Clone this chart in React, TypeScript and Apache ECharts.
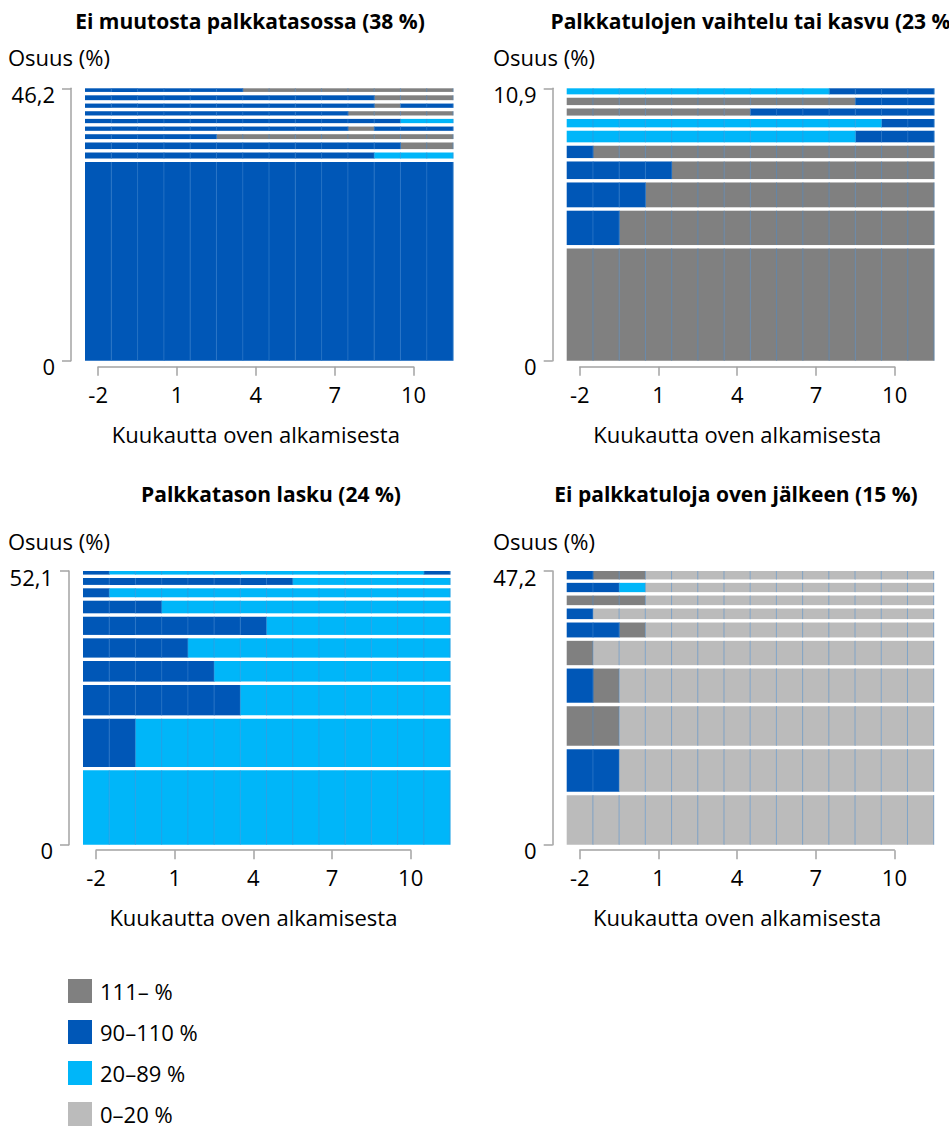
import React, { useEffect, useRef } from 'react';
import * as echarts from 'echarts';

// ---------- data ----------
const MONTHS = [-2, -1, 0, 1, 2, 3, 4, 5, 6, 7, 8, 9, 10, 11];
const STATE_CODES = ['H', 'B', 'C', 'L'];
const STATE_NAMES = ['111– %', '90–110 %', '20–89 %', '0–20 %'];
const STATE_COLORS = ['#808080', '#0057b7', '#00b6f9', '#bbbbbb'];

const PANEL_TITLES = [
  'Ei muutosta palkkatasossa (38 %)',
  'Palkkatulojen vaihtelu tai kasvu (23 %)',
  'Palkkatason lasku (24 %)',
  'Ei palkkatuloja oven jälkeen (15 %)',
];
const Y_MAX = [46.2, 10.9, 52.1, 47.2];
const X_AXIS_TITLE = 'Kuukautta oven alkamisesta';
const Y_AXIS_TITLE = 'Osuus (%)';

// shares (%) of each sequence, listed from top row to bottom row
const SHARES_1 = [0.9, 1.4, 1.3, 1.3, 1.3, 1.3, 1.4, 1.7, 1.6, 34.0];
const SEQ_1 = [
  'BBBBBBHHHHHHHH',
  'BBBBBBBBBBBHHH',
  'BBBBBBBBBBBHBB',
  'BBBBBBBBBBHHHH',
  'BBBBBBBBBBBBCC',
  'BBBBBBBBBBHBBB',
  'BBBBBHHHHHHHHH',
  'BBBBBBBBBBBBHH',
  'BBBBBBBBBBBCCC',
  'BBBBBBBBBBBBBB',
];

const SHARES_2 = [0.31, 0.43, 0.42, 0.47, 0.6, 0.63, 0.84, 1.13, 1.51, 4.56];
const SEQ_2 = [
  'CCCCCCCCCCBBBB',
  'HHHHHHHHHHHBBB',
  'HHHHHHHBBBBBBB',
  'CCCCCCCCCCCCBB',
  'CCCCCCCCCCCBBB',
  'BHHHHHHHHHHHHH',
  'BBBBHHHHHHHHHH',
  'BBBHHHHHHHHHHH',
  'BBHHHHHHHHHHHH',
  'HHHHHHHHHHHHHH',
];

const SHARES_3 = [1.01, 1.96, 2.36, 3.05, 4.11, 4.32, 4.57, 6.42, 9.82, 14.48];
const SEQ_3 = [
  'BCCCCCCCCCCCCB',
  'BBBBBBBBCCCCCC',
  'BCCCCCCCCCCCCC',
  'BBBCCCCCCCCCCC',
  'BBBBBBBCCCCCCC',
  'BBBBCCCCCCCCCC',
  'BBBBBCCCCCCCCC',
  'BBBBBBCCCCCCCC',
  'BBCCCCCCCCCCCC',
  'CCCCCCCCCCCCCC',
];

const SHARES_4 = [1.75, 2.19, 2.24, 2.41, 3.16, 4.78, 6.48, 7.42, 7.93, 8.84];
const SEQ_4 = [
  'BHHLLLLLLLLLLL',
  'BBCLLLLLLLLLLL',
  'HHHLLLLLLLLLLL',
  'BLLLLLLLLLLLLL',
  'BBHLLLLLLLLLLL',
  'HLLLLLLLLLLLLL',
  'BHLLLLLLLLLLLL',
  'HHLLLLLLLLLLLL',
  'BBLLLLLLLLLLLL',
  'LLLLLLLLLLLLLL',
];

const PANEL_SHARES = [SHARES_1, SHARES_2, SHARES_3, SHARES_4];
const PANEL_SEQS = [SEQ_1, SEQ_2, SEQ_3, SEQ_4];

// ---------- layout ----------
const FONT = '"Open Sans", "Noto Sans", sans-serif';
const FS = 22;
const FS_TITLE = 21;
const LAYOUT = [
  { left: 85, top: 88.3, width: 368, height: 272.4, xOff: 6, titleX: 250, titleY: 21, nameX: 8, nameY: 57 },
  { left: 566.7, top: 88.3, width: 367.3, height: 272.4, xOff: 6, titleX: 754, titleY: 21, nameX: 493, nameY: 57 },
  { left: 83, top: 571, width: 367, height: 273.7, xOff: 5.5, titleX: 271, titleY: 494, nameX: 8, nameY: 541 },
  { left: 566.7, top: 571, width: 367, height: 273.7, xOff: 5.5, titleX: 736, titleY: 494, nameX: 493, nameY: 541 },
];
const LEGEND_LEFT = 68;
const LEGEND_TOP = 979;
const LEGEND_STEP = 41;
const GAP = 3.4;
const AXIS_COLOR = '#a3a3a3';

function buildOption() {
  const grid: any[] = [];
  const xAxis: any[] = [];
  const yAxis: any[] = [];
  const series: any[] = [];
  const graphic: any[] = [];

  PANEL_TITLES.forEach((title, p) => {
    const L = LAYOUT[p];
    const n = MONTHS.length;
    const cw = L.width / n;
    const gMain = grid.length;
    grid.push({ left: L.left, top: L.top, width: L.width, height: L.height, outerBoundsMode: 'none' });
    grid.push({
      left: L.left + cw / 2,
      top: L.top,
      width: cw * (n - 2),
      height: L.height,
      outerBoundsMode: 'none',
    });
    const xMain = xAxis.length;
    xAxis.push({ gridIndex: gMain, type: 'value', min: -0.5, max: n - 0.5, show: false });
    xAxis.push({
      gridIndex: gMain + 1,
      type: 'value',
      min: 0,
      max: n - 2,
      interval: 3,
      position: 'bottom',
      offset: L.xOff,
      axisLine: { show: true, onZero: false, lineStyle: { color: AXIS_COLOR, width: 1.5 } },
      axisTick: { show: true, length: 9, lineStyle: { color: AXIS_COLOR, width: 1.5 } },
      axisLabel: {
        formatter: (v: number) => String(MONTHS[Math.round(v)]),
        fontSize: FS,
        color: '#000',
        fontFamily: FONT,
        margin: 16,
      },
      splitLine: { show: false },
      name: X_AXIS_TITLE,
      nameLocation: 'middle',
      nameGap: 56,
      nameTextStyle: { fontSize: FS, color: '#000', fontFamily: FONT },
    });
    const yMain = yAxis.length;
    const M = Y_MAX[p];
    yAxis.push({
      gridIndex: gMain,
      type: 'value',
      min: 0,
      max: M,
      interval: M,
      position: 'left',
      offset: 14,
      axisLine: { show: true, onZero: false, lineStyle: { color: AXIS_COLOR, width: 1.5 } },
      axisTick: { show: true, length: 9, lineStyle: { color: AXIS_COLOR, width: 1.5 } },
      axisLabel: {
        formatter: (v: number) => (v === 0 ? '0' : v.toFixed(1).replace('.', ',')),
        fontSize: FS,
        color: '#000',
        fontFamily: FONT,
        margin: 16,
        verticalAlign: 'top',
        lineHeight: 11,
        showMinLabel: true,
        showMaxLabel: true,
      },
      splitLine: { show: false },
    });
    yAxis.push({ gridIndex: gMain + 1, type: 'value', min: 0, max: 1, show: false });

    // cells
    const shares = PANEL_SHARES[p];
    const seqs = PANEL_SEQS[p];
    const rows = shares.length;
    const byState: any[][] = STATE_CODES.map(() => []);
    const borders: any[] = [];
    let cum = 0;
    for (let r = rows - 1; r >= 0; r--) {
      const y0 = cum;
      const y1 = r === 0 ? M : cum + shares[r];
      cum += shares[r];
      const isTop = r === 0 ? 1 : 0;
      const isBottom = r === rows - 1 ? 1 : 0;
      for (let m = 0; m < n; m++) {
        const s = STATE_CODES.indexOf(seqs[r][m]);
        byState[s].push([m, y0, y1, isTop, isBottom]);
        borders.push([m, y0, y1, isTop, isBottom]);
      }
    }
    const rectOf = (api: any) => {
      const m = api.value(0);
      const y0 = api.value(1);
      const y1 = api.value(2);
      const isTop = api.value(3);
      const isBottom = api.value(4);
      const a = api.coord([m - 0.5, y1]);
      const b = api.coord([m + 0.5, y0]);
      const top = a[1] + (isTop ? 0 : GAP / 2);
      const bottom = b[1] - (isBottom ? 0 : GAP / 2);
      return { x0: a[0], x1: b[0], top, bottom };
    };
    STATE_CODES.forEach((_, s) => {
      series.push({
        type: 'custom',
        name: STATE_NAMES[s],
        xAxisIndex: xMain,
        yAxisIndex: yMain,
        itemStyle: { color: STATE_COLORS[s] },
        encode: { x: 0, y: [1, 2] },
        clip: false,
        silent: true,
        data: byState[s],
        renderItem: (params: any, api: any) => {
          const r = rectOf(api);
          return {
            type: 'rect',
            shape: { x: r.x0, y: r.top, width: r.x1 - r.x0 + 0.4, height: r.bottom - r.top },
            style: { fill: api.visual('color') },
          };
        },
      });
    });
    series.push({
      type: 'custom',
      name: 'borders' + p,
      xAxisIndex: xMain,
      yAxisIndex: yMain,
      encode: { x: 0, y: [1, 2] },
      clip: false,
      silent: true,
      z: 3,
      data: borders,
      renderItem: (params: any, api: any) => {
        const r = rectOf(api);
        return {
          type: 'line',
          shape: { x1: r.x1, y1: r.top, x2: r.x1, y2: r.bottom },
          style: { stroke: 'rgba(70,140,210,0.5)', lineWidth: 1 },
        };
      },
    });

    graphic.push({
      type: 'text',
      x: L.titleX,
      y: L.titleY,
      style: {
        text: title,
        fill: '#000',
        font: `bold ${FS_TITLE}px ${FONT}`,
        align: 'center',
        verticalAlign: 'middle',
      },
    });
    graphic.push({
      type: 'text',
      x: L.nameX,
      y: L.nameY,
      style: {
        text: Y_AXIS_TITLE,
        fill: '#000',
        font: `${FS}px ${FONT}`,
        align: 'left',
        verticalAlign: 'middle',
      },
    });
  });

  const legend = STATE_NAMES.map((name, i) => ({
    data: [name],
    orient: 'vertical',
    left: LEGEND_LEFT,
    top: LEGEND_TOP + i * LEGEND_STEP,
    itemWidth: 24,
    itemHeight: 24,
    itemGap: 0,
    icon: 'rect',
    selectedMode: false,
    padding: 0,
    textStyle: { fontSize: FS, color: '#000', fontFamily: FONT, padding: [0, 0, 0, 3] },
  }));

  return {
    animation: false,
    backgroundColor: '#ffffff',
    grid,
    xAxis,
    yAxis,
    series,
    graphic,
    legend,
  };
}

export default function App() {
  const ref = useRef<HTMLDivElement>(null);
  useEffect(() => {
    if (!ref.current) return;
    const chart = echarts.init(ref.current, null, { renderer: 'svg' });
    chart.setOption(buildOption() as any);
    return () => chart.dispose();
  }, []);
  return (
    <div
      ref={ref}
      style={{ position: 'absolute', left: 0, top: 0, width: 949, height: 1126 }}
    />
  );
}
